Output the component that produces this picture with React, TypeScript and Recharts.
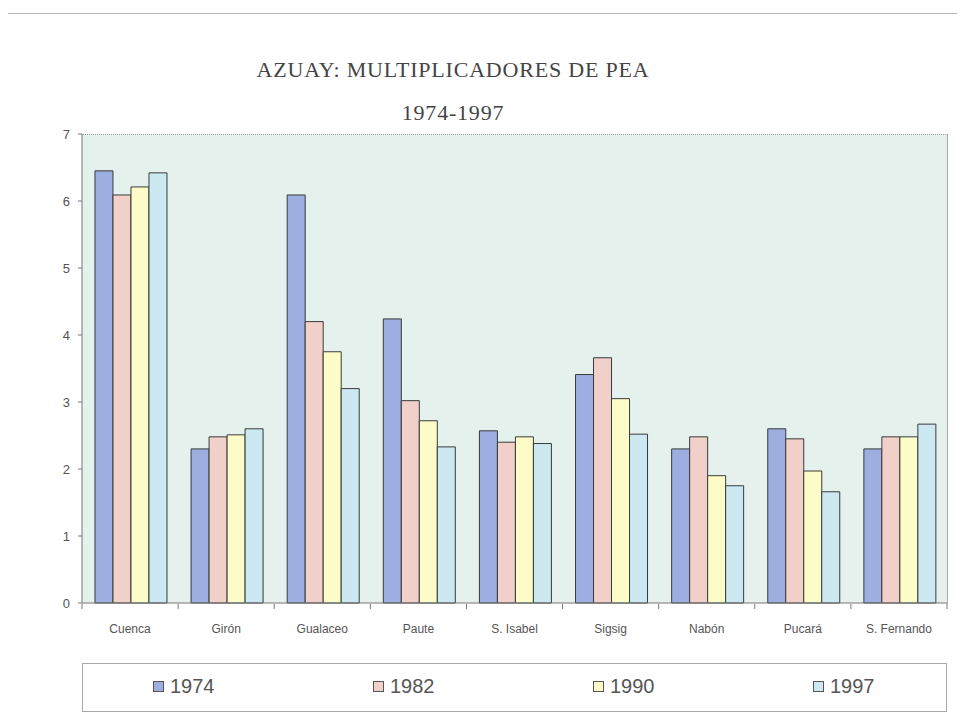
import { BarChart, Bar, XAxis, YAxis, CartesianGrid } from "recharts";

const categories = ["Cuenca", "Girón", "Gualaceo", "Paute", "S. Isabel", "Sigsig", "Nabón", "Pucará", "S. Fernando"];
const years = ["1974", "1982", "1990", "1997"];
const v1974 = [6.45, 2.3, 6.09, 4.24, 2.57, 3.41, 2.3, 2.6, 2.3];
const v1982 = [6.09, 2.48, 4.2, 3.02, 2.4, 3.66, 2.48, 2.45, 2.48];
const v1990 = [6.21, 2.51, 3.75, 2.72, 2.48, 3.05, 1.9, 1.97, 2.48];
const v1997 = [6.42, 2.6, 3.2, 2.33, 2.38, 2.52, 1.75, 1.66, 2.67];
const yTicks = [0, 1, 2, 3, 4, 5, 6, 7];

const colors = ["#9daee1", "#f1d0ca", "#fdfcc8", "#cce9f2"];
const series = [v1974, v1982, v1990, v1997];

const data = categories.map((name, i) => {
  const row: Record<string, string | number> = { name };
  years.forEach((y, k) => (row[y] = series[k][i]));
  return row;
});

const PLOT_W = 865;
const halfBand = PLOT_W / categories.length / 2;
const sans = "Liberation Sans, Arial, sans-serif";

// category label + tick marks at the band boundaries (Excel style)
function CatTick(props: any) {
  const { x, y, payload, index } = props;
  const top = y - 20;
  return (
    <g>
      <line x1={x - halfBand} x2={x - halfBand} y1={top} y2={top + 5} stroke="#777" />
      {index === categories.length - 1 && (
        <line x1={x + halfBand} x2={x + halfBand} y1={top} y2={top + 5} stroke="#777" />
      )}
      <text x={x} y={y} dy="0.71em" textAnchor="middle" fontFamily={sans} fontSize={12} fill="#555">
        {payload.value}
      </text>
    </g>
  );
}

function LegendBox() {
  return (
    <div
      style={{
        position: "absolute",
        left: 82,
        top: 663,
        width: 863,
        height: 47,
        border: "1px solid #aaa",
        fontFamily: sans,
        fontSize: 20,
        color: "#555",
      }}
    >
      {years.map((y, k) => (
        <div
          key={y}
          style={{ position: "absolute", left: 70 + k * 220, top: 11, display: "flex", alignItems: "center" }}
        >
          <span
            style={{
              display: "inline-block",
              width: 9,
              height: 9,
              border: "1px solid #555",
              background: colors[k],
              marginRight: 6,
            }}
          />
          <span>{y}</span>
        </div>
      ))}
    </div>
  );
}

export default function App() {
  return (
    <div style={{ position: "relative", width: 965, height: 728, marginLeft: -8, marginTop: -8, background: "#fff" }}>
      <div
        style={{
          position: "absolute",
          left: 7,
          top: 13,
          width: 957,
          height: 714,
          borderLeft: "1px solid #bbb",
          borderTop: "1px solid #bbb",
        }}
      />
      <div
        style={{
          position: "absolute",
          left: 0,
          width: 906,
          top: 48,
          textAlign: "center",
          fontFamily: "Liberation Serif, serif",
          fontSize: 22,
          color: "#444",
          letterSpacing: 0.8,
          lineHeight: "43px",
        }}
      >
        <div>AZUAY: MULTIPLICADORES DE PEA</div>
        <div>1974-1997</div>
      </div>
      <div style={{ position: "absolute", left: 0, top: 0 }}>
        <BarChart
          width={965}
          height={728}
          data={data}
          margin={{ top: 134, right: 18, bottom: 95, left: 50 }}
          barCategoryGap="13.5%"
          barGap={0}
        >
          <CartesianGrid fill="#e4f1ed" horizontal={false} vertical={false} />
          <XAxis
            dataKey="name"
            stroke="#777"
            tickLine={false}
            tickMargin={15}
            height={30}
            interval={0}
            tick={<CatTick />}
          />
          <YAxis
            domain={[0, 7]}
            ticks={yTicks}
            width={32}
            stroke="#777"
            tickSize={4}
            tickMargin={8}
            tick={{ fontFamily: sans, fill: "#555", fontSize: 13 }}
          />
          {years.map((y, k) => (
            <Bar key={y} dataKey={y} fill={colors[k]} stroke="#3a3a3a" strokeWidth={1} isAnimationActive={false} />
          ))}
        </BarChart>
      </div>
      <div
        style={{
          position: "absolute",
          left: 82,
          top: 134,
          width: 865,
          height: 469,
          borderTop: "1px dotted #999",
          borderRight: "1px solid #aaa",
          pointerEvents: "none",
        }}
      />
      <LegendBox />
    </div>
  );
}
